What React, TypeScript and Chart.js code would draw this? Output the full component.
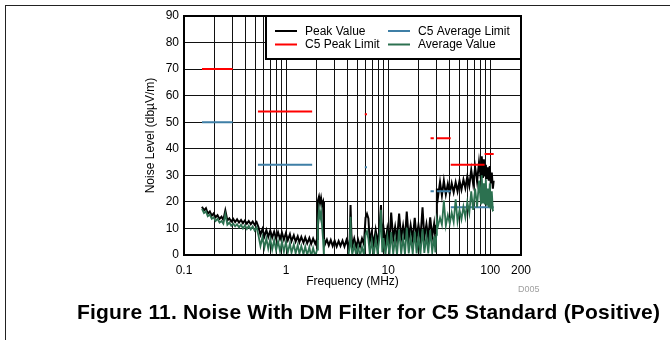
import React, { useEffect, useRef } from "react";
import { Chart, registerables } from "chart.js";

Chart.register(...registerables);

// ---------- DATA ----------
const FREQ_MHZ = [
  0.150, 0.157, 0.164, 0.171, 0.179, 0.187, 0.195, 0.204, 0.213, 0.223,
  0.233, 0.243, 0.254, 0.266, 0.278, 0.290, 0.303, 0.317, 0.331, 0.346,
  0.362, 0.378, 0.395, 0.413, 0.431, 0.451, 0.471, 0.492, 0.514,
  0.537, 0.561, 0.587, 0.613, 0.641, 0.669, 0.700, 0.731, 0.764, 0.798,
  0.834, 0.872, 0.911, 0.952, 0.995,
  1.04, 1.09, 1.13, 1.19, 1.24, 1.30, 1.35, 1.41, 1.48, 1.54,
  1.61, 1.69, 1.76, 1.84, 1.93, 2.01,
  2.05, 2.10, 2.15, 2.20, 2.25, 2.30, 2.35, 2.40, 2.51, 2.62,
  2.74, 2.86, 2.99, 3.13, 3.27, 3.41, 3.57, 3.73, 3.90, 4.07,
  4.20, 4.28, 4.36, 4.45, 4.65, 4.86, 5.07, 5.30, 5.54, 5.79,
  6.00, 6.20, 6.40, 6.61, 6.90, 7.22, 7.54, 7.88, 8.23, 8.50,
  8.75, 8.99, 9.40, 9.82,
  10.3, 10.7, 11.2, 11.7, 12.2, 12.8, 13.4, 14.0, 14.6, 15.2,
  15.9, 16.6, 17.4, 18.2, 19.0, 19.8, 20.7, 21.7, 22.6, 23.7,
  24.7, 25.8, 27.0, 28.2, 29.0, 29.6,
  30.0, 30.8, 32.2, 33.6, 35.1, 36.7, 38.4, 40.1, 41.9, 43.8,
  45.8, 47.8, 50.0, 52.2, 54.6, 57.0, 59.6, 62.3, 65.1, 68.0,
  71.1, 74.3, 77.6, 81.1, 82.5, 84.7, 86.6, 88.5, 90.5, 92.5,
  94.6, 96.7, 98.9, 101, 103.5, 106, 108,
];

const PEAK_VALUE = [
  18.2, 16.8, 17.6, 15.6, 16.4, 14.8, 15.6, 14.2, 15.0, 13.6,
  14.4, 13.2, 16.8, 13.0, 13.8, 12.6, 13.6, 12.4, 13.4, 12.2,
  13.2, 12.0, 13.0, 11.8, 12.8, 11.6, 12.6, 11.4, 12.4,
  10.4, 7.6, 9.8, 7.0, 9.4, 6.8, 9.2, 6.6, 8.8, 6.2,
  8.6, 6.0, 8.4, 5.8, 8.2,
  5.6, 7.8, 5.2, 7.4, 5.0, 7.0, 4.8, 6.8, 4.6, 6.6,
  4.4, 6.4, 4.2, 6.2, 4.2, 6.0,
  20.5, 22.0, 19.5, 21.5, 19.0, 20.0, 6.5, 4.0, 5.8, 3.6,
  5.6, 3.4, 5.4, 3.2, 5.2, 3.4, 5.4, 3.2, 5.6, 3.0,
  6.0, 18.8, 8.0, 3.2, 6.2, 3.0, 5.8, 3.2, 6.2, 4.0,
  14.0, 15.5, 13.8, 5.0, 8.6, 4.0, 9.4, 4.6, 10.0, 18.8,
  6.0, 10.4, 4.4, 10.0,
  5.4, 16.0, 6.0, 10.6, 5.6, 15.6, 6.2, 11.0, 5.8, 16.4,
  6.2, 11.2, 5.8, 14.0, 6.4, 11.4, 6.0, 18.0, 6.6, 11.6,
  6.2, 14.2, 6.8, 11.8, 6.4, 11.0,
  25.0, 22.0, 27.5, 22.4, 28.0, 22.8, 26.8, 23.2, 27.0, 23.6,
  27.4, 24.0, 28.0, 24.6, 28.4, 25.2, 29.6, 26.0, 32.0, 26.8,
  33.0, 27.6, 35.0, 28.4, 37.2, 29.0, 36.0, 29.6, 34.0, 28.6,
  33.0, 28.0, 33.5, 27.0, 31.0, 25.0, 28.0,
];

const AVERAGE_VALUE = [
  17.4, 15.8, 16.4, 14.6, 15.2, 13.6, 14.2, 12.8, 13.6, 12.2,
  12.8, 11.8, 15.4, 11.4, 12.2, 11.0, 11.8, 10.8, 11.6, 10.4,
  11.4, 10.0, 11.2, 9.8, 11.0, 9.6, 10.8, 9.2, 10.4,
  7.2, 3.4, 6.8, 2.8, 6.2, 2.4, 6.0, 2.0, 5.6, 1.8,
  5.2, 1.4, 5.0, 1.2, 4.8,
  1.0, 4.4, 0.8, 4.0, 0.6, 3.8, 0.4, 3.4, 0.2, 3.2,
  0.0, 3.0, -0.5, 2.6, -0.5, 2.0,
  12.0, 17.0, 14.0, 16.5, 11.0, 6.0, -1.0, -3, -3, -3,
  -3, -3, -3, -3, -3, -3, -3, -3, -3, -1.0,
  4.0, 14.4, 3.0, 0.2, 3.6, 0.0, 3.2, -0.5, 3.0, 0.0,
  7.6, 9.0, 6.0, 0.2, 5.4, -0.5, 6.0, 0.4, 7.0, 17.0,
  1.0, 6.4, 0.0, 6.8,
  0.2, 8.6, 0.4, 6.2, 0.0, 9.6, 0.4, 6.6, 0.2, 10.2,
  0.6, 6.8, 0.4, 8.8, 0.6, 7.0, 0.4, 9.8, 0.8, 7.2,
  0.6, 9.4, 1.0, 7.0, 1.0, 7.6,
  13.0, 11.0, 14.0, 11.4, 20.5, 11.0, 15.0, 11.8, 16.0, 12.4,
  21.0, 12.6, 17.0, 13.4, 18.2, 14.2, 20.0, 15.8, 24.0, 17.0,
  25.0, 18.0, 28.0, 19.0, 30.0, 19.4, 27.0, 19.0, 28.5, 18.6,
  25.0, 18.0, 27.0, 17.2, 24.0, 16.8, 17.0,
];

// [start MHz, stop MHz, level dBµV/m]
const C5_PEAK_LIMIT = [
  [0.15, 0.3, 70], [0.53, 1.8, 54], [5.9, 6.2, 53], [26, 28, 44],
  [30, 41, 44], [41, 88, 34], [88, 108, 38],
];
const C5_AVERAGE_LIMIT = [
  [0.15, 0.3, 50], [0.53, 1.8, 34], [5.9, 6.2, 33], [26, 28, 24],
  [30, 41, 24], [41, 88, 18], [88, 108, 18],
];

const X_GRID_VALUES = [
  0.1, 0.2, 0.3, 0.4, 0.5, 0.6, 0.7, 0.8, 0.9,
  1, 2, 3, 4, 5, 6, 7, 8, 9,
  10, 20, 30, 40, 50, 60, 70, 80, 90,
  100, 200,
];
const X_TICK_LABELS = [0.1, 1, 10, 100, 200];

const COLORS = {
  peak: "#000000",
  peakLimit: "#ff0000",
  avgLimit: "#3f7fa6",
  avg: "#2c7150",
};

const FONT = "'Liberation Sans', Arial, Helvetica, sans-serif";

function bandsToPoints(bands: number[][]) {
  const pts: { x: number; y: number | null }[] = [];
  bands.forEach(([a, b, lvl]) => {
    pts.push({ x: a, y: lvl }, { x: b, y: lvl }, { x: b, y: null });
  });
  return pts;
}

const overlayPlugin = {
  id: "overlay",
  afterDraw(chart: any) {
    const { ctx, chartArea: a } = chart;
    ctx.save();
    // legend box
    const lx = a.left + 82;
    const ly = a.top;
    const lw = a.right - lx;
    const lh = 43;
    ctx.fillStyle = "#fff";
    ctx.fillRect(lx, ly, lw, lh);
    ctx.strokeStyle = "#000";
    ctx.lineWidth = 2;
    ctx.strokeRect(lx, ly, lw, lh);

    const order = [0, 3, 1, 2]; // Peak, AvgLimit, PeakLimit, Avg (row-major)
    const cols = [lx + 9, lx + 122];
    const rows = [ly + 15, ly + 28.5];
    ctx.font = `12px ${FONT}`;
    ctx.textBaseline = "middle";
    ctx.textAlign = "left";
    order.forEach((dsIndex, i) => {
      const ds = chart.data.datasets[dsIndex];
      const cx = cols[i % 2];
      const cy = rows[Math.floor(i / 2)];
      ctx.strokeStyle = ds.borderColor;
      ctx.lineWidth = 2;
      ctx.beginPath();
      ctx.moveTo(cx, cy);
      ctx.lineTo(cx + 22, cy);
      ctx.stroke();
      ctx.fillStyle = "#000";
      ctx.fillText(ds.label, cx + 30, cy + 0.5);
    });

    // plot frame
    ctx.strokeStyle = "#000";
    ctx.lineWidth = 2;
    ctx.strokeRect(a.left, a.top, a.right - a.left, a.bottom - a.top);
    ctx.restore();
  },
};

export default function App() {
  const canvasRef = useRef<HTMLCanvasElement | null>(null);

  useEffect(() => {
    if (!canvasRef.current) return;
    const peakPts = FREQ_MHZ.map((f, i) => ({ x: f, y: PEAK_VALUE[i] }));
    const avgPts = FREQ_MHZ.map((f, i) => ({ x: f, y: AVERAGE_VALUE[i] }));

    const chart = new Chart(canvasRef.current, {
      type: "line",
      data: {
        datasets: [
          {
            label: "Peak Value",
            data: peakPts,
            borderColor: COLORS.peak,
            borderWidth: 2,
            pointRadius: 0,
            order: 3,
          },
          {
            label: "C5 Peak Limit",
            data: bandsToPoints(C5_PEAK_LIMIT),
            borderColor: COLORS.peakLimit,
            borderWidth: 2,
            pointRadius: 0,
            spanGaps: false,
            order: 2,
          },
          {
            label: "Average Value",
            data: avgPts,
            borderColor: COLORS.avg,
            borderWidth: 1.8,
            pointRadius: 0,
            order: 0,
          },
          {
            label: "C5 Average Limit",
            data: bandsToPoints(C5_AVERAGE_LIMIT),
            borderColor: COLORS.avgLimit,
            borderWidth: 2,
            pointRadius: 0,
            spanGaps: false,
            order: 1,
          },
        ],
      },
      options: {
        animation: false,
        responsive: false,
        devicePixelRatio: 1,
        layout: { padding: { left: 140, right: 149, top: 16, bottom: 0 } },
        plugins: { legend: { display: false }, tooltip: { enabled: false } },
        elements: { line: { tension: 0 } },
        scales: {
          x: {
            type: "logarithmic",
            min: 0.1,
            max: 200,
            afterBuildTicks: (scale: any) => {
              scale.ticks = X_GRID_VALUES.map((v) => ({ value: v }));
            },
            afterFit: (scale: any) => {
              scale.height = 40;
            },
            ticks: {
              autoSkip: false,
              maxRotation: 0,
              padding: 8,
              color: "#000",
              font: { family: FONT, size: 12 },
              callback: (value: any) =>
                X_TICK_LABELS.includes(Number(value)) ? String(value) : "",
            },
            grid: { color: "#111", lineWidth: 1, drawTicks: false },
            border: { display: false },
            title: {
              display: true,
              text: "Frequency (MHz)",
              color: "#000",
              font: { family: FONT, size: 12 },
              padding: { top: 0, bottom: 6 },
            },
          },
          y: {
            type: "linear",
            min: 0,
            max: 90,
            afterFit: (scale: any) => {
              scale.width = 44;
            },
            ticks: {
              stepSize: 10,
              padding: 5,
              color: "#000",
              font: { family: FONT, size: 12 },
            },
            grid: { color: "#111", lineWidth: 1, drawTicks: false },
            border: { display: false },
            title: {
              display: true,
              text: "Noise Level (dbµV/m)",
              color: "#000",
              font: { family: FONT, size: 12 },
              padding: { top: 3, bottom: 0 },
            },
          },
        },
      },
      plugins: [overlayPlugin],
    } as any);

    return () => chart.destroy();
  }, []);

  return (
    <div
      style={{
        position: "absolute",
        left: 0,
        top: 0,
        width: 670,
        height: 340,
        background: "#fff",
        overflow: "hidden",
      }}
    >
      <div
        style={{
          position: "absolute",
          left: 5,
          top: 5,
          width: 700,
          height: 400,
          borderTop: "1px solid #222",
          borderLeft: "1px solid #222",
        }}
      />
      <canvas
        ref={canvasRef}
        width={670}
        height={295}
        style={{ position: "absolute", left: 0, top: 0, width: 670, height: 295 }}
      />
      <div
        style={{
          position: "absolute",
          left: 518,
          top: 284,
          fontFamily: FONT,
          fontSize: 9,
          lineHeight: "10px",
          color: "#a0a0a0",
        }}
      >
        D005
      </div>
      <div
        style={{
          position: "absolute",
          left: 77,
          top: 301,
          fontFamily: FONT,
          fontWeight: "bold",
          fontSize: 21,
          lineHeight: "21px",
          letterSpacing: "0.2px",
          color: "#000",
          whiteSpace: "nowrap",
        }}
      >
        Figure 11. Noise With DM Filter for C5 Standard (Positive)
      </div>
    </div>
  );
}
